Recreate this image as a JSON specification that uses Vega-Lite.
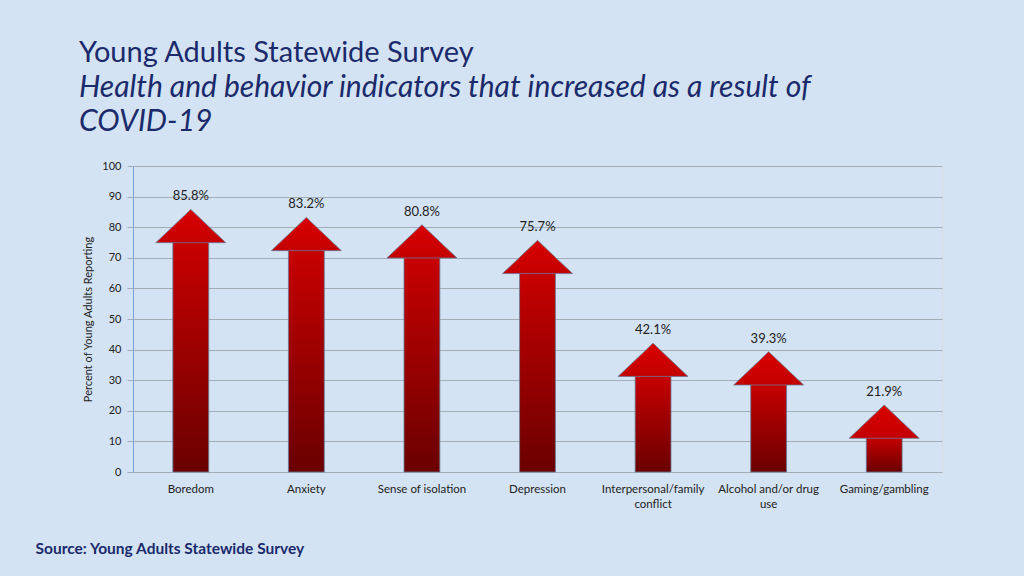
{
  "$schema": "https://vega.github.io/schema/vega-lite/v6.json",
  "width": 809,
  "height": 306,
  "autosize": {"type": "none"},
  "padding": {"left": 133, "top": 166, "right": 82, "bottom": 104},
  "background": "#d3e3f3",
  "title": {
    "text": "Young Adults Statewide Survey",
    "subtitle": ["Health and behavior indicators that increased as a result of", "COVID-19"],
    "anchor": "start",
    "frame": "group",
    "dx": -54,
    "offset": 23,
    "font": "Lato",
    "fontSize": 29,
    "fontWeight": "normal",
    "color": "#1b2a6b",
    "subtitleFont": "Lato",
    "subtitleFontSize": 30,
    "subtitleFontStyle": "italic",
    "subtitleColor": "#1b2a6b",
    "subtitleLineHeight": 34,
    "subtitlePadding": 5
  },
  "data": {
    "values": [
      {"indicator": "Boredom", "value": 85.8},
      {"indicator": "Anxiety", "value": 83.2},
      {"indicator": "Sense of isolation", "value": 80.8},
      {"indicator": "Depression", "value": 75.7},
      {"indicator": "Interpersonal/family conflict", "value": 42.1},
      {"indicator": "Alcohol and/or drug use", "value": 39.3},
      {"indicator": "Gaming/gambling", "value": 21.9}
    ]
  },
  "encoding": {
    "x": {
      "field": "indicator",
      "type": "nominal",
      "sort": null,
      "scale": {"paddingInner": 0, "paddingOuter": 0},
      "axis": {
        "labelAngle": 0,
        "labelFont": "Lato",
        "labelFontSize": 11.5,
        "labelColor": "#222222",
        "labelPadding": 11,
        "labelLineHeight": 15,
        "labelExpr": "datum.value == 'Interpersonal/family conflict' ? ['Interpersonal/family', 'conflict'] : datum.value == 'Alcohol and/or drug use' ? ['Alcohol and/or drug', 'use'] : datum.value",
        "ticks": false,
        "domain": false,
        "title": "Source: Young Adults Statewide Survey",
        "titleAnchor": "start",
        "titleAlign": "left",
        "titleX": -98,
        "titleY": 81,
        "titleBaseline": "alphabetic",
        "titleFont": "Lato",
        "titleFontSize": 15.5,
        "titleFontWeight": "bold",
        "titleColor": "#1b2a6b"
      }
    },
    "y": {
      "field": "value",
      "type": "quantitative",
      "scale": {"domain": [0, 100]},
      "axis": {
        "values": [0, 10, 20, 30, 40, 50, 60, 70, 80, 90, 100],
        "grid": true,
        "gridColor": "#a3adb8",
        "gridWidth": 1,
        "domainColor": "#7aa3d6",
        "tickColor": "#a3adb8",
        "tickSize": 6,
        "labelFont": "Lato",
        "labelFontSize": 11,
        "labelColor": "#222222",
        "labelPadding": 6,
        "title": "Percent of Young Adults Reporting",
        "titleFont": "Lato",
        "titleFontSize": 11,
        "titleFontWeight": "normal",
        "titleColor": "#222222",
        "titlePadding": 8
      }
    }
  },
  "layer": [
    {
      "mark": {
        "type": "bar",
        "width": {"band": 0.31},
        "yOffset": 32,
        "stroke": "#6a7896",
        "strokeWidth": 0.8,
        "fill": {
          "gradient": "linear",
          "x1": 0, "y1": 0, "x2": 0, "y2": 1,
          "stops": [
            {"offset": 0, "color": "#c80000"},
            {"offset": 1, "color": "#6a0000"}
          ]
        }
      },
      "encoding": {"y2": {"datum": 0}}
    },
    {
      "mark": {
        "type": "point",
        "shape": "M0,0L1,0.95L-1,0.95Z",
        "size": 4900,
        "filled": true,
        "opacity": 1,
        "stroke": "#6a7896",
        "strokeWidth": 0.8,
        "fill": {
          "gradient": "linear",
          "x1": 0, "y1": 0, "x2": 0, "y2": 1,
          "stops": [
            {"offset": 0, "color": "#d80000"},
            {"offset": 1, "color": "#c40000"}
          ]
        }
      }
    },
    {
      "mark": {
        "type": "text",
        "baseline": "bottom",
        "dy": -6,
        "font": "Lato",
        "fontSize": 13,
        "color": "#222222",
        "text": {"expr": "format(datum.value, '.1f') + '%'"}
      }
    }
  ]
}
